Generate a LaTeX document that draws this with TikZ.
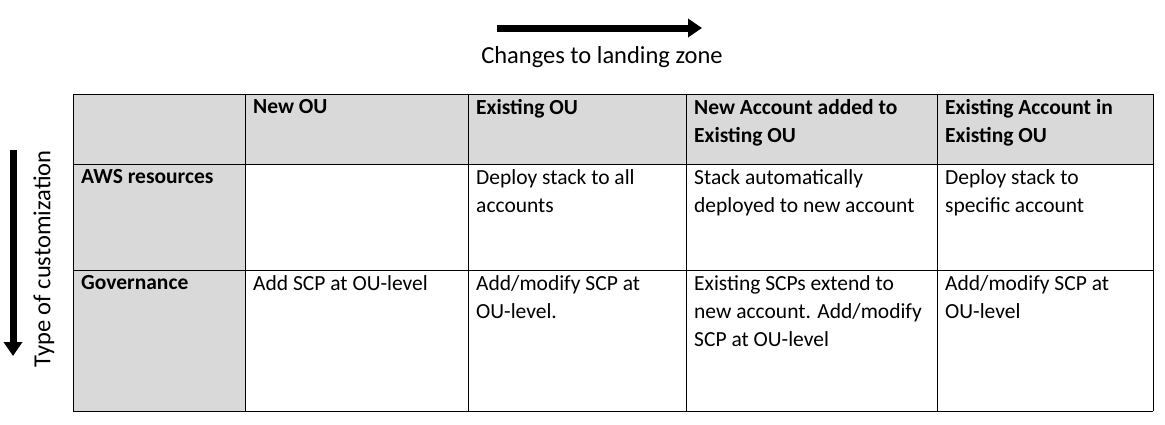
\documentclass[tikz,border=0pt]{standalone}
\usepackage{fontspec}
\setmainfont{Carlito}
\usetikzlibrary{arrows.meta}
\begin{document}
\begin{tikzpicture}[x=1pt,y=-1pt,
  cell/.style={anchor=north west,align=left,inner sep=0pt,font=\fontsize{21.5}{28}\selectfont},
  hcell/.style={cell,font=\fontsize{21.5}{28}\selectfont\bfseries},
  bigarrow/.style={line width=7pt,-{Triangle[length=14pt,width=18pt]}},
  grid/.style={draw=black,line width=1pt}]
\useasboundingbox (0,0) rectangle (1165,424);
\fill[gray!30] (73,94) rectangle (1153,164);
\fill[gray!30] (73,164) rectangle (245,411);
\foreach \y in {94,164,270,411} \draw[grid] (73,\y) -- (1153,\y);
\foreach \x in {73,245,468,686,937,1153} \draw[grid] (\x,94) -- (\x,411);
\coordinate (h1) at (497,28); \coordinate (h2) at (702,28);
\draw[bigarrow] (h1) -- (h2);
\node[font=\fontsize{24.5}{28}\selectfont] (ht) at (602,57) {Changes to landing zone};
\coordinate (v1) at (13,150); \coordinate (v2) at (13,356);
\draw[bigarrow] (v1) -- (v2);
\node[font=\fontsize{24.5}{28}\selectfont,rotate=90] (vt) at (44,259) {Type of customization};
\node[hcell] (c12) at (253,99) {New OU};
\node[hcell] (c13) at (476,99) {Existing OU};
\node[hcell] (c14) at (694,99) {New Account added to\\Existing OU};
\node[hcell] (c15) at (945,99) {Existing Account in\\Existing OU};
\node[hcell] (c21) at (81,169) {AWS resources};
\node[cell] (c23) at (476,169) {Deploy stack to all\\accounts};
\node[cell] (c24) at (694,169) {Stack automatically\\deployed to new account};
\node[cell] (c25) at (945,169) {Deploy stack to\\specific account};
\node[hcell] (c31) at (81,275) {Governance};
\node[cell] (c32) at (253,275) {Add SCP at OU-level};
\node[cell] (c33) at (476,275) {Add/modify SCP at\\OU-level.};
\node[cell] (c34) at (694,275) {Existing SCPs extend to\\new account. Add/modify\\SCP at OU-level};
\node[cell] (c35) at (945,275) {Add/modify SCP at\\OU-level};
\end{tikzpicture}
\end{document}
